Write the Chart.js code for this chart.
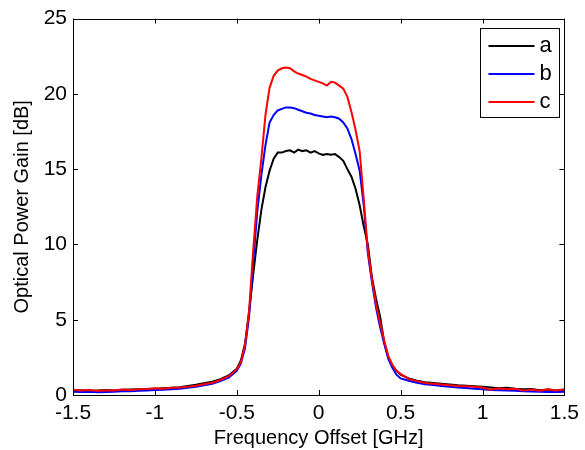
<!DOCTYPE html>
<html>
<head>
<meta charset="utf-8">
<script src="https://cdn.jsdelivr.net/npm/chart.js@4.4.1/dist/chart.umd.min.js"></script>
<style>
  html, body { margin: 0; padding: 0; background: #fff; }
  #wrap { width: 585px; height: 450px; position: relative; }
</style>
</head>
<body>
<div id="wrap"><canvas id="c" width="585" height="450"></canvas></div>
<script>
// Frequency offset [GHz]
const freq = [
  -1.5,-1.45,-1.4,-1.35,-1.3,-1.25,-1.2,-1.15,-1.1,-1.05,-1.0,-0.95,-0.9,-0.85,-0.8,-0.75,-0.7,-0.65,-0.6,-0.55,
  -0.5,-0.475,-0.45,-0.425,-0.4,-0.375,-0.35,-0.325,-0.3,-0.275,-0.25,-0.225,-0.2,-0.175,-0.15,-0.125,-0.1,-0.075,-0.05,-0.025,
  0,0.025,0.05,0.075,0.1,0.125,0.15,0.175,0.2,0.225,0.25,0.275,0.3,0.325,0.35,0.375,0.4,0.425,0.45,0.475,0.5,
  0.55,0.6,0.65,0.7,0.75,0.8,0.85,0.9,0.95,1.0,1.05,1.1,1.15,1.2,1.25,1.3,1.35,1.4,1.45,1.5
];
// Optical power gain [dB]
const gainA = [
  0.3,0.32,0.28,0.3,0.34,0.3,0.35,0.36,0.38,0.4,0.42,0.45,0.48,0.52,0.6,0.68,0.78,0.88,1.05,1.3,
  1.75,2.3,3.4,5.5,8.0,10.3,12.3,13.8,14.9,15.7,16.1,16.1,16.2,16.25,16.1,16.3,16.2,16.25,16.1,16.2,
  16.05,15.95,16.0,15.95,16.0,15.8,15.55,15.0,14.5,13.7,12.6,11.2,10.0,7.8,6.4,5.2,3.5,2.5,1.9,1.6,1.35,
  1.1,0.95,0.85,0.8,0.75,0.7,0.65,0.62,0.58,0.55,0.5,0.45,0.48,0.42,0.38,0.4,0.32,0.36,0.3,0.35
];
const gainB = [
  0.22,0.2,0.22,0.18,0.2,0.22,0.25,0.25,0.28,0.3,0.33,0.35,0.38,0.42,0.48,0.55,0.65,0.75,0.92,1.15,
  1.6,2.1,3.1,5.2,8.8,12.2,14.6,16.6,18.1,18.6,18.9,19.0,19.1,19.1,19.05,18.95,18.85,18.75,18.7,18.6,
  18.55,18.5,18.45,18.5,18.45,18.35,18.1,17.7,17.0,16.0,14.9,12.6,9.4,7.5,5.8,4.5,3.4,2.4,1.8,1.35,1.1,
  0.95,0.82,0.72,0.66,0.6,0.55,0.5,0.46,0.42,0.38,0.34,0.32,0.3,0.28,0.25,0.24,0.22,0.2,0.2,0.22
];
const gainC = [
  0.35,0.3,0.33,0.28,0.32,0.3,0.36,0.33,0.38,0.4,0.44,0.42,0.48,0.5,0.55,0.62,0.72,0.82,1.0,1.25,
  1.7,2.2,3.3,5.6,9.6,13.2,15.7,18.6,20.4,21.2,21.55,21.7,21.75,21.7,21.5,21.35,21.25,21.15,21.0,20.9,
  20.8,20.7,20.55,20.8,20.75,20.55,20.35,19.8,18.8,17.6,16.2,13.0,9.6,7.7,6.0,4.8,3.6,2.6,2.0,1.6,1.4,
  1.05,0.92,0.8,0.75,0.7,0.65,0.6,0.58,0.55,0.5,0.35,0.45,0.38,0.42,0.3,0.36,0.28,0.38,0.3,0.38
];
const seriesLabels = ['a', 'b', 'c'];
const seriesColors = ['#000000', '#0000ff', '#ff0000'];
const xTicks = [-1.5, -1, -0.5, 0, 0.5, 1, 1.5];
const yTicks = [0, 5, 10, 15, 20, 25];

const toPts = arr => freq.map((f, i) => ({ x: f, y: arr[i] }));
const allSeries = [gainA, gainB, gainC];

const FONT = '"Liberation Sans", Arial, Helvetica, sans-serif';

const boxPlugin = {
  id: 'boxTicks',
  afterDatasetsDraw(chart) {
    const { ctx, chartArea: a, scales } = chart;
    ctx.save();
    ctx.strokeStyle = '#000';
    ctx.lineWidth = 1;
    ctx.beginPath();
    xTicks.forEach(v => {
      const px = Math.round(scales.x.getPixelForValue(v)) + 0.5;
      ctx.moveTo(px, a.bottom); ctx.lineTo(px, a.bottom - 5);
      ctx.moveTo(px, a.top); ctx.lineTo(px, a.top + 5);
    });
    yTicks.forEach(v => {
      const py = Math.round(scales.y.getPixelForValue(v)) + 0.5;
      ctx.moveTo(a.left, py); ctx.lineTo(a.left + 5, py);
      ctx.moveTo(a.right, py); ctx.lineTo(a.right - 5, py);
    });
    ctx.stroke();
    ctx.strokeRect(Math.round(a.left) + 0.5, Math.round(a.top) + 0.5,
                   Math.round(a.right - a.left), Math.round(a.bottom - a.top));
    // legend
    const bw = 79, bh = 89;
    const bx = Math.round(a.right) - 5 - bw + 0.5;
    const by = Math.round(a.top) + 9 + 0.5;
    ctx.fillStyle = '#fff';
    ctx.fillRect(bx, by, bw, bh);
    ctx.strokeRect(bx, by, bw, bh);
    ctx.font = '22px ' + FONT;
    ctx.textBaseline = 'middle';
    ctx.textAlign = 'left';
    chart.data.datasets.forEach((ds, i) => {
      const y = by + 17.5 + i * 28;
      ctx.strokeStyle = ds.borderColor;
      ctx.lineWidth = 2;
      ctx.beginPath();
      ctx.moveTo(bx + 8, y); ctx.lineTo(bx + 54, y);
      ctx.stroke();
      ctx.fillStyle = '#000';
      ctx.fillText(ds.label, bx + 59, y);
    });
    ctx.restore();
  }
};

new Chart(document.getElementById('c'), {
  type: 'line',
  data: {
    datasets: allSeries.map((s, i) => ({
      label: seriesLabels[i],
      data: toPts(s),
      borderColor: seriesColors[i],
      backgroundColor: seriesColors[i],
      borderWidth: 2,
      pointRadius: 0,
      tension: 0,
      fill: false,
      order: 3 - i
    }))
  },
  options: {
    responsive: false,
    animation: false,
    devicePixelRatio: 1,
    layout: { padding: { left: 0, top: 14, right: 19, bottom: 0 } },
    plugins: { legend: { display: false }, tooltip: { enabled: false } },
    scales: {
      x: {
        type: 'linear',
        min: -1.5, max: 1.5,
        afterBuildTicks: s => { s.ticks = xTicks.map(v => ({ value: v })); },
        afterFit: s => { s.height = 55; },
        grid: { display: false, drawTicks: false },
        border: { display: false },
        ticks: { color: '#000', font: { family: FONT, size: 21 }, padding: 6, maxRotation: 0,
                 callback: v => String(v) },
        title: { display: true, text: 'Frequency Offset [GHz]', color: '#000',
                 font: { family: FONT, size: 20 }, padding: { top: 1, bottom: 0 } }
      },
      y: {
        type: 'linear',
        min: 0, max: 25,
        afterBuildTicks: s => { s.ticks = yTicks.map(v => ({ value: v })); },
        afterFit: s => { s.width = 73; },
        grid: { display: false, drawTicks: false },
        border: { display: false },
        ticks: { color: '#000', font: { family: FONT, size: 21 }, padding: 6,
                 callback: v => String(v) },
        title: { display: true, text: 'Optical Power Gain [dB]', color: '#000',
                 font: { family: FONT, size: 20 }, padding: { top: 10, bottom: 0 } }
      }
    }
  },
  plugins: [boxPlugin]
});
</script>
</body>
</html>
